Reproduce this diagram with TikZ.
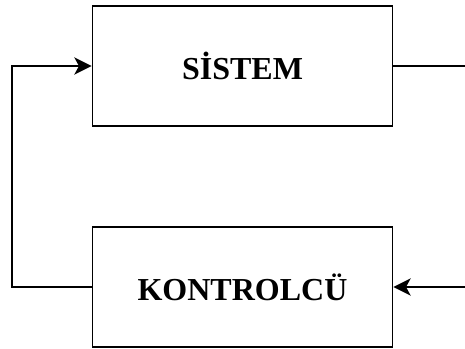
\documentclass[tikz,border=0pt]{standalone}
\usepackage{fontspec}
\setmainfont{Liberation Serif}
\usetikzlibrary{arrows.meta}
\begin{document}
\begin{tikzpicture}[x=0.75pt,y=-0.75pt,
  blockbox/.style={draw,line width=1.3pt,minimum width=225pt,minimum height=90pt,inner sep=0pt,
    font=\fontsize{24}{28}\selectfont\bfseries},
  conn/.style={line width=1.3pt},
  arr/.style={conn,-{Stealth[length=13pt,width=13pt,inset=3.5pt]}}]
\useasboundingbox (0,0) rectangle (465,349);
\node[blockbox] (sys) at (242.5,66) {SİSTEM};
\node[blockbox] (ctl) at (242.5,287) {KONTROLCÜ};
\coordinate (out) at (465,66);
\coordinate (in) at (465,287);
\coordinate (bl) at (12,287);
\coordinate (tl) at (12,66);
\draw[conn] (sys.east) -- (out);
\draw[arr] (in) -- (ctl.east);
\draw[arr] (ctl.west) -- (bl) -- (tl) -- (sys.west);
\end{tikzpicture}
\end{document}
